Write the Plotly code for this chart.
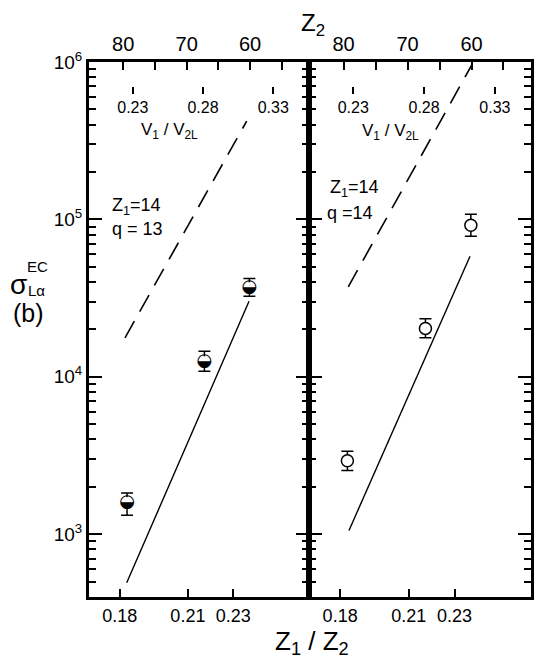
import plotly.graph_objects as go

# Target atomic number Z2 of each measured point (same targets in both panels)
z2_points = [79.4, 67.2, 60.1]

# Panel (left): Z1 = 14, q = 13 -- measured L-alpha EC cross sections
q13_sigma = [1590, 12450, 36800]
q13_err_plus = [240, 2100, 5300]
q13_err_minus = [270, 1600, 4300]

# Panel (right): Z1 = 14, q = 14
q14_sigma = [2930, 20300, 91800]
q14_err_plus = [440, 3100, 16100]
q14_err_minus = [390, 2600, 13700]

# Theory curves (solid) and scaled curves (dashed)
q13_solid_z2 = [79.45, 71.6, 66.2, 60.16]
q13_solid_sigma = [491, 2580, 8300, 30200]
q13_dash_z2 = [79.72, 60.53]
q13_dash_sigma = [17700, 421000]

q14_solid_z2 = [79.15, 69.6, 60.23]
q14_solid_sigma = [1056, 7980, 58300]
q14_dash_z2 = [79.26, 59.92]
q14_dash_sigma = [37300, 964000]

# Axis ticks
z2_ticks = [80, 75, 70, 65, 60, 55]
z2_labels = ["80", "", "70", "", "60", ""]
ratio_ticks = [0.18, 0.21, 0.23]
ratio_labels = ["0.18", "0.21", "0.23"]
vel_ticks = [0.23, 0.28, 0.33]
vel_labels = ["0.23", "0.28", "0.33"]
y_major = [1e3, 1e4, 1e5, 1e6]
y_major_labels = ["10<sup>3</sup>", "10<sup>4</sup>", "10<sup>5</sup>", "10<sup>6</sup>"]
y_minor = [k * 10 ** e for e in range(2, 6) for k in range(2, 10) if k * 10 ** e > 450]

FONT = "Liberation Sans"
W, H = 534, 660
ML, MR, MT, MB = 89, 3, 62, 63
SPLIT = 220 / (W - ML - MR)

Z2_RANGE = [85.4, 50.7]
RATIO_RANGE = [0.1664, 0.2634]
VEL_RANGE = [0.1988, 0.3555]
Y_RANGE = [2.601, 6.0]

fig = go.Figure()


def add_panel(xa, ya, sigma, eplus, eminus, solid_x, solid_y, dash_x, dash_y, half_filled):
    fig.add_trace(go.Scatter(
        x=dash_x, y=dash_y, xaxis=xa, yaxis=ya, mode="lines",
        line=dict(color="black", width=1.6, dash="19px,11px"), showlegend=False))
    fig.add_trace(go.Scatter(
        x=solid_x, y=solid_y, xaxis=xa, yaxis=ya, mode="lines",
        line=dict(color="black", width=1.4), showlegend=False))
    err = dict(type="data", symmetric=False, array=eplus, arrayminus=eminus,
               color="black", thickness=1.5, width=6)
    if half_filled:
        fig.add_trace(go.Scatter(
            x=z2_points, y=sigma, xaxis=xa, yaxis=ya, mode="markers+text",
            marker=dict(symbol="circle", size=11, color="white", line=dict(width=0)),
            text=["\u25D2"] * len(sigma), textposition="middle center",
            textfont=dict(family="DejaVu Sans", size=18, color="black"),
            error_y=err, showlegend=False))
    else:
        fig.add_trace(go.Scatter(
            x=z2_points, y=sigma, xaxis=xa, yaxis=ya, mode="markers",
            marker=dict(symbol="circle", size=12, color="white",
                        line=dict(color="black", width=1.5)),
            error_y=err, showlegend=False))


add_panel("x", "y", q13_sigma, q13_err_plus, q13_err_minus,
          q13_solid_z2, q13_solid_sigma, q13_dash_z2, q13_dash_sigma, True)
add_panel("x2", "y2", q14_sigma, q14_err_plus, q14_err_minus,
          q14_solid_z2, q14_solid_sigma, q14_dash_z2, q14_dash_sigma, False)

# Empty traces so that the Z1/Z2 and V1/V2L scales get their own subplots
for xa, ya in [("x3", "y"), ("x4", "y2"), ("x5", "y"), ("x6", "y2")]:
    fig.add_trace(go.Scatter(x=[], y=[], xaxis=xa, yaxis=ya, mode="markers",
                             showlegend=False, hoverinfo="skip"))

common_line = dict(showline=True, linecolor="black", linewidth=3, showgrid=False,
                   zeroline=False, ticks="inside", tickcolor="black", tickwidth=1.5)


def z2_axis(domain, anchor):
    return dict(domain=domain, anchor=anchor, side="top", range=Z2_RANGE,
                tickmode="array", tickvals=z2_ticks, ticktext=z2_labels, ticklen=8,
                tickfont=dict(family=FONT, size=20, color="black"), **common_line)


def ratio_axis(over, anchor):
    return dict(overlaying=over, anchor=anchor, side="bottom", range=RATIO_RANGE,
                tickmode="array", tickvals=ratio_ticks, ticktext=ratio_labels, ticklen=8,
                ticklabelstandoff=0,
                tickfont=dict(family=FONT, size=18, color="black"), **common_line)


def vel_axis(over):
    return dict(overlaying=over, anchor="free", position=0.955, side="bottom",
                range=VEL_RANGE, tickmode="array", tickvals=vel_ticks, ticktext=vel_labels,
                showline=False, showgrid=False, zeroline=False, ticks="outside",
                ticklen=7, tickwidth=1.5, tickcolor="black",
                tickfont=dict(family=FONT, size=16, color="black"))


def y_axis(anchor, labels):
    return dict(type="log", range=Y_RANGE, anchor=anchor, domain=[0, 1], mirror="ticks",
                tickmode="array", tickvals=y_major, ticktext=y_major_labels, ticklen=13,
                showticklabels=labels,
                tickfont=dict(family=FONT, size=19, color="black"),
                minor=dict(tickmode="array", tickvals=y_minor, ticks="inside", ticklen=7,
                           tickwidth=1.5, tickcolor="black", showgrid=False),
                **common_line)


fig.update_layout(
    width=W, height=H,
    margin=dict(l=ML, r=MR, t=MT, b=MB, autoexpand=False),
    paper_bgcolor="white", plot_bgcolor="white",
    font=dict(family=FONT, color="black"),
    showlegend=False,
    xaxis=z2_axis([0, SPLIT], "y"),
    xaxis2=z2_axis([SPLIT, 1], "y2"),
    xaxis3=ratio_axis("x", "y"),
    xaxis4=ratio_axis("x2", "y2"),
    xaxis5=vel_axis("x"),
    xaxis6=vel_axis("x2"),
    yaxis=y_axis("x", True),
    yaxis2=y_axis("x2", False),
)


def px_x(p):
    return (p - ML) / (W - ML - MR)


def px_y(p):
    return (H - MB - p) / (H - MT - MB)


def note(text, x, y, size, xanchor="center"):
    fig.add_annotation(text=text, x=px_x(x), y=px_y(y), xref="paper", yref="paper",
                       xanchor=xanchor, yanchor="middle", showarrow=False,
                       font=dict(family=FONT, size=size, color="black"))


note("Z<sub>2</sub>", 313, 24, 24)
note("Z<sub>1</sub> / Z<sub>2</sub>", 312, 642, 26)
note("\u03c3", 18, 284, 28)
note("EC", 37.5, 266.5, 15)
note("L\u03b1", 36, 290, 15)
note("(b)", 28.5, 313, 25)
note("Z<sub>1</sub>=14", 110, 206, 18, "left")
note("q = 13", 110, 229, 18, "left")
note("Z<sub>1</sub>=14", 328, 188, 18, "left")
note("q =14", 325, 213, 18, "left")
note("V<sub>1</sub> / V<sub>2L</sub>", 169, 131, 17)
note("V<sub>1</sub> / V<sub>2L</sub>", 390.5, 131.5, 17)

fig.write_html("out.html")
